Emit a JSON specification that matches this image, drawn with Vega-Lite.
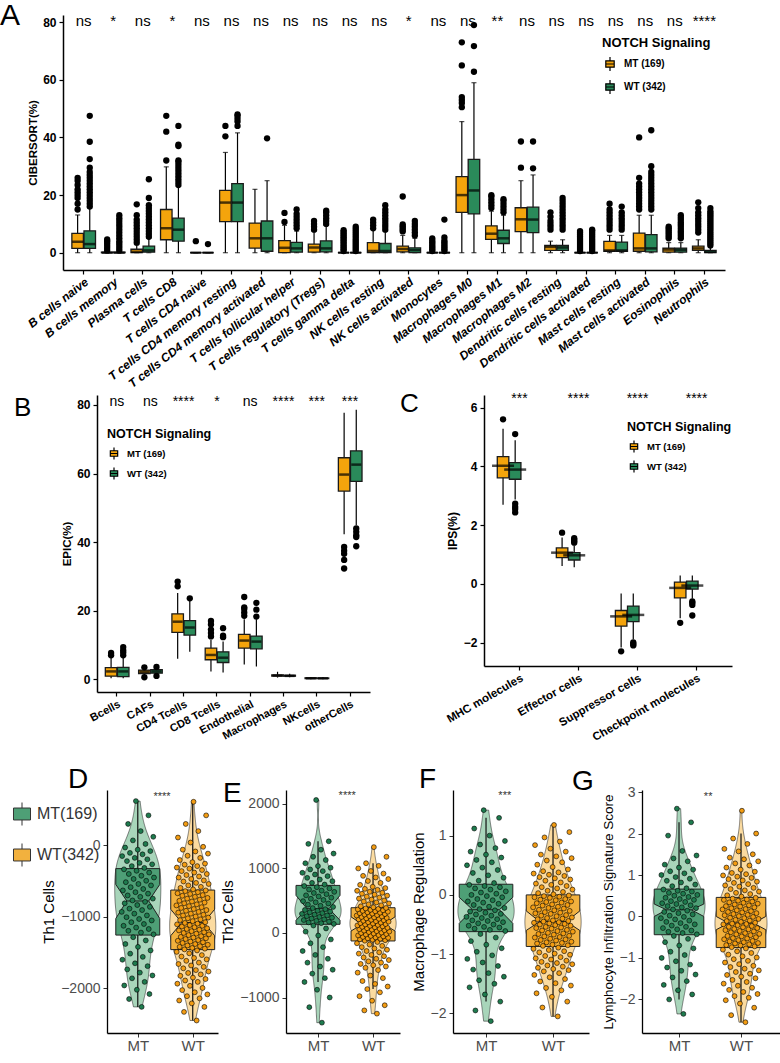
{
  "$schema": "https://vega.github.io/schema/vega-lite/v6.json",
  "padding": 0,
  "background": "white",
  "config": {
    "font": "Liberation Sans",
    "view": {"stroke": null},
    "title": {"fontWeight": "normal", "fontSize": 27, "anchor": "start", "frame": "group", "baseline": "alphabetic", "offset": 0, "color": "#000"},
    "axis": {"grid": false, "domainColor": "#000", "titleColor": "#000"},
    "axisBand": {"labelFontWeight": "bold", "labelColor": "#000", "domainWidth": 1.5, "tickWidth": 1.2, "tickColor": "#000", "tickSize": 4, "labelPadding": 2},
    "axisQuantitative": {"labelColor": "#4D4D4D", "labelFontSize": 14, "titleFontSize": 15, "titleFontWeight": "normal", "tickColor": "#333", "tickSize": 4, "domainWidth": 1.3, "labelPadding": 3},
    "legend": {"titleFontWeight": "bold", "labelFontWeight": "bold", "titleColor": "#000", "labelColor": "#000"}
  },
  "datasets": {
    "boxA": [
      {"k":"1M","c":"B cells naive","g":"MT","lo":0,"q1":1.5,"med":3.8,"q3":6.7,"hi":13.1,"s":"ns"},
      {"k":"1W","c":"B cells naive","g":"WT","lo":0,"q1":1.5,"med":3,"q3":7.6,"hi":15.5},
      {"k":"2M","c":"B cells memory","g":"MT","lo":0,"q1":0,"med":0,"q3":0.2,"hi":0.4,"s":"*"},
      {"k":"2W","c":"B cells memory","g":"WT","lo":0,"q1":0,"med":0,"q3":0.2,"hi":0.5},
      {"k":"3M","c":"Plasma cells","g":"MT","lo":0,"q1":0,"med":0.3,"q3":1.2,"hi":2.8,"s":"ns"},
      {"k":"3W","c":"Plasma cells","g":"WT","lo":0,"q1":0.2,"med":0.8,"q3":2.3,"hi":5},
      {"k":"4M","c":"T cells CD8","g":"MT","lo":0,"q1":4.5,"med":8.5,"q3":15,"hi":29.8,"s":"*"},
      {"k":"4W","c":"T cells CD8","g":"WT","lo":0,"q1":4,"med":8,"q3":12,"hi":23},
      {"k":"5M","c":"T cells CD4 naive","g":"MT","lo":0,"q1":0,"med":0,"q3":0,"hi":0,"s":"ns"},
      {"k":"5W","c":"T cells CD4 naive","g":"WT","lo":0,"q1":0,"med":0,"q3":0,"hi":0},
      {"k":"6M","c":"T cells CD4 memory resting","g":"MT","lo":0,"q1":10.8,"med":17.4,"q3":21.6,"hi":34.8,"s":"ns"},
      {"k":"6W","c":"T cells CD4 memory resting","g":"WT","lo":0,"q1":10.8,"med":17.4,"q3":24,"hi":41.6},
      {"k":"7M","c":"T cells CD4 memory activated","g":"MT","lo":0,"q1":1.6,"med":5,"q3":10.3,"hi":22,"s":"ns"},
      {"k":"7W","c":"T cells CD4 memory activated","g":"WT","lo":0,"q1":0.5,"med":5,"q3":11,"hi":25},
      {"k":"8M","c":"T cells follicular helper","g":"MT","lo":0,"q1":0,"med":1.7,"q3":4.2,"hi":9.5,"s":"ns"},
      {"k":"8W","c":"T cells follicular helper","g":"WT","lo":0,"q1":0.2,"med":1.5,"q3":3.6,"hi":7.5},
      {"k":"9M","c":"T cells regulatory (Tregs)","g":"MT","lo":0,"q1":0.2,"med":1.8,"q3":3,"hi":7.5,"s":"ns"},
      {"k":"9W","c":"T cells regulatory (Tregs)","g":"WT","lo":0,"q1":0.3,"med":1.5,"q3":4.1,"hi":9.5},
      {"k":"10M","c":"T cells gamma delta","g":"MT","lo":0,"q1":0,"med":0,"q3":0,"hi":0,"s":"ns"},
      {"k":"10W","c":"T cells gamma delta","g":"WT","lo":0,"q1":0,"med":0,"q3":0,"hi":0},
      {"k":"11M","c":"NK cells resting","g":"MT","lo":0,"q1":0,"med":0.6,"q3":3.5,"hi":8,"s":"ns"},
      {"k":"11W","c":"NK cells resting","g":"WT","lo":0,"q1":0,"med":0.6,"q3":3.2,"hi":7.5},
      {"k":"12M","c":"NK cells activated","g":"MT","lo":0,"q1":0.3,"med":1.3,"q3":2.3,"hi":6,"s":"*"},
      {"k":"12W","c":"NK cells activated","g":"WT","lo":0,"q1":0,"med":0.9,"q3":1.7,"hi":5},
      {"k":"13M","c":"Monocytes","g":"MT","lo":0,"q1":0,"med":0,"q3":0,"hi":0,"s":"ns"},
      {"k":"13W","c":"Monocytes","g":"WT","lo":0,"q1":0,"med":0,"q3":0,"hi":0},
      {"k":"14M","c":"Macrophages M0","g":"MT","lo":0,"q1":14,"med":20,"q3":26.4,"hi":45.5,"s":"ns"},
      {"k":"14W","c":"Macrophages M0","g":"WT","lo":0,"q1":13.5,"med":21.6,"q3":32.4,"hi":59},
      {"k":"15M","c":"Macrophages M1","g":"MT","lo":0,"q1":4.6,"med":6.6,"q3":9.3,"hi":14.4,"s":"**"},
      {"k":"15W","c":"Macrophages M1","g":"WT","lo":0,"q1":3.2,"med":5,"q3":7.8,"hi":13},
      {"k":"16M","c":"Macrophages M2","g":"MT","lo":0,"q1":7.3,"med":11.6,"q3":15.6,"hi":25,"s":"ns"},
      {"k":"16W","c":"Macrophages M2","g":"WT","lo":0,"q1":7,"med":11.5,"q3":15.8,"hi":27},
      {"k":"17M","c":"Dendritic cells resting","g":"MT","lo":0,"q1":0.8,"med":2,"q3":2.5,"hi":4,"s":"ns"},
      {"k":"17W","c":"Dendritic cells resting","g":"WT","lo":0,"q1":0.8,"med":1.8,"q3":2.5,"hi":4.5},
      {"k":"18M","c":"Dendritic cells activated","g":"MT","lo":0,"q1":0,"med":0,"q3":0,"hi":0,"s":"ns"},
      {"k":"18W","c":"Dendritic cells activated","g":"WT","lo":0,"q1":0,"med":0,"q3":0,"hi":0},
      {"k":"19M","c":"Mast cells resting","g":"MT","lo":0,"q1":0.5,"med":0.8,"q3":3.9,"hi":6,"s":"ns"},
      {"k":"19W","c":"Mast cells resting","g":"WT","lo":0,"q1":0.5,"med":0.8,"q3":3.7,"hi":6},
      {"k":"20M","c":"Mast cells activated","g":"MT","lo":0,"q1":0.5,"med":1.5,"q3":6.8,"hi":13,"s":"ns"},
      {"k":"20W","c":"Mast cells activated","g":"WT","lo":0,"q1":0.3,"med":1.5,"q3":6.3,"hi":13},
      {"k":"21M","c":"Eosinophils","g":"MT","lo":0,"q1":0.2,"med":1.1,"q3":1.6,"hi":3.5,"s":"ns"},
      {"k":"21W","c":"Eosinophils","g":"WT","lo":0,"q1":0.2,"med":1,"q3":1.6,"hi":3.5},
      {"k":"22M","c":"Neutrophils","g":"MT","lo":0,"q1":0.8,"med":1.5,"q3":2.3,"hi":4.5,"s":"****"},
      {"k":"22W","c":"Neutrophils","g":"WT","lo":0,"q1":0,"med":0.3,"q3":0.8,"hi":2}
    ],
    "outA": [
      {"k":"1M","v":15},{"k":"1M","v":17},{"k":"1M","v":19},{"k":"1M","v":20},{"k":"1M","v":21},{"k":"1M","v":22},{"k":"1M","v":23.5},{"k":"1M","v":25},{"k":"1M","v":26},
      {"k":"1W","v":16},{"k":"1W","v":17},{"k":"1W","v":18},{"k":"1W","v":19},{"k":"1W","v":20},{"k":"1W","v":21},{"k":"1W","v":22},{"k":"1W","v":23},{"k":"1W","v":24},{"k":"1W","v":25},{"k":"1W","v":26},{"k":"1W","v":27},{"k":"1W","v":28},{"k":"1W","v":29.5},{"k":"1W","v":32.5},{"k":"1W","v":38.5},{"k":"1W","v":47.5},
      {"k":"2M","v":0.8},{"k":"2M","v":1.6},{"k":"2M","v":2.4},{"k":"2M","v":3.2},{"k":"2M","v":4},{"k":"2M","v":4.6},
      {"k":"2W","v":0.8},{"k":"2W","v":1.6},{"k":"2W","v":2.4},{"k":"2W","v":3.2},{"k":"2W","v":4},{"k":"2W","v":5},{"k":"2W","v":6},{"k":"2W","v":7},{"k":"2W","v":8},{"k":"2W","v":9},{"k":"2W","v":10},{"k":"2W","v":11},{"k":"2W","v":12},{"k":"2W","v":13},
      {"k":"3M","v":3.5},{"k":"3M","v":4.5},{"k":"3M","v":5.5},{"k":"3M","v":6.5},{"k":"3M","v":7.5},{"k":"3M","v":8.5},{"k":"3M","v":9.5},{"k":"3M","v":10.5},{"k":"3M","v":11.5},{"k":"3M","v":13},{"k":"3M","v":16.8},
      {"k":"3W","v":5.5},{"k":"3W","v":6.5},{"k":"3W","v":7.5},{"k":"3W","v":8.5},{"k":"3W","v":9.5},{"k":"3W","v":10.5},{"k":"3W","v":11.5},{"k":"3W","v":12.5},{"k":"3W","v":13.5},{"k":"3W","v":14.5},{"k":"3W","v":15.5},{"k":"3W","v":16.5},{"k":"3W","v":19},{"k":"3W","v":25.5},
      {"k":"4M","v":32},{"k":"4M","v":42},{"k":"4M","v":47.5},
      {"k":"4W","v":23.5},{"k":"4W","v":24.5},{"k":"4W","v":25.5},{"k":"4W","v":26.5},{"k":"4W","v":27.5},{"k":"4W","v":28.5},{"k":"4W","v":29.5},{"k":"4W","v":30.5},{"k":"4W","v":31.5},{"k":"4W","v":32},{"k":"4W","v":37},{"k":"4W","v":37.5},{"k":"4W","v":44},
      {"k":"5M","v":4},{"k":"5W","v":3},
      {"k":"6M","v":40.4},{"k":"6M","v":44},
      {"k":"6W","v":44},{"k":"6W","v":45.5},{"k":"6W","v":46.5},{"k":"6W","v":47.5},{"k":"6W","v":48},
      {"k":"7W","v":39.7},
      {"k":"8M","v":10.7},{"k":"8M","v":13.8},
      {"k":"8W","v":8.5},{"k":"8W","v":9.5},{"k":"8W","v":10.5},{"k":"8W","v":11.5},{"k":"8W","v":12.5},{"k":"8W","v":13.5},{"k":"8W","v":15},
      {"k":"9M","v":8},{"k":"9M","v":9},{"k":"9M","v":10},{"k":"9M","v":11},
      {"k":"9W","v":10},{"k":"9W","v":11},{"k":"9W","v":12},{"k":"9W","v":13},{"k":"9W","v":14},{"k":"9W","v":14.6},
      {"k":"10M","v":0.6},{"k":"10M","v":1.2},{"k":"10M","v":1.8},{"k":"10M","v":2.4},{"k":"10M","v":3},{"k":"10M","v":3.6},{"k":"10M","v":4.2},{"k":"10M","v":4.8},{"k":"10M","v":5.4},{"k":"10M","v":6},{"k":"10M","v":6.6},{"k":"10M","v":7.2},{"k":"10M","v":7.8},
      {"k":"10W","v":0.6},{"k":"10W","v":1.3},{"k":"10W","v":2},{"k":"10W","v":2.7},{"k":"10W","v":3.4},{"k":"10W","v":4.1},{"k":"10W","v":4.8},{"k":"10W","v":5.5},{"k":"10W","v":6.2},{"k":"10W","v":6.9},{"k":"10W","v":7.6},{"k":"10W","v":8.3},{"k":"10W","v":9},
      {"k":"11M","v":8.5},{"k":"11M","v":9.5},{"k":"11M","v":10.5},{"k":"11M","v":11.5},
      {"k":"11W","v":8},{"k":"11W","v":9},{"k":"11W","v":10},{"k":"11W","v":11},{"k":"11W","v":12},{"k":"11W","v":13},{"k":"11W","v":14},{"k":"11W","v":15},{"k":"11W","v":16.5},
      {"k":"12M","v":7.4},{"k":"12M","v":8},{"k":"12M","v":8.6},{"k":"12M","v":9.2},{"k":"12M","v":9.8},{"k":"12M","v":19.5},
      {"k":"12W","v":6},{"k":"12W","v":7},{"k":"12W","v":8},{"k":"12W","v":9},{"k":"12W","v":10},{"k":"12W","v":11},
      {"k":"13M","v":0.6},{"k":"13M","v":1.2},{"k":"13M","v":1.8},{"k":"13M","v":2.4},{"k":"13M","v":3},{"k":"13M","v":3.6},{"k":"13M","v":4.2},{"k":"13M","v":5},
      {"k":"13W","v":0.6},{"k":"13W","v":1.2},{"k":"13W","v":1.8},{"k":"13W","v":2.4},{"k":"13W","v":3},{"k":"13W","v":3.6},{"k":"13W","v":4.2},{"k":"13W","v":5.3},{"k":"13W","v":11.5},
      {"k":"14M","v":50.5},{"k":"14M","v":52},{"k":"14M","v":53},{"k":"14M","v":54},{"k":"14M","v":65},{"k":"14M","v":73},
      {"k":"14W","v":62.8},{"k":"14W","v":71.7},{"k":"14W","v":79},
      {"k":"15M","v":15.5},{"k":"15M","v":16.5},{"k":"15M","v":17.5},{"k":"15M","v":18.5},{"k":"15M","v":19.5},{"k":"15M","v":20},
      {"k":"15W","v":14},{"k":"15W","v":15},{"k":"15W","v":16},{"k":"15W","v":17},{"k":"15W","v":18},{"k":"15W","v":18.6},
      {"k":"16M","v":29.5},{"k":"16M","v":38.6},{"k":"16W","v":29.3},{"k":"16W","v":38.6},
      {"k":"17M","v":8},{"k":"17M","v":9},{"k":"17M","v":10},{"k":"17M","v":11},{"k":"17M","v":12.5},{"k":"17M","v":14},
      {"k":"17W","v":8},{"k":"17W","v":9},{"k":"17W","v":10},{"k":"17W","v":11},{"k":"17W","v":12},{"k":"17W","v":13},{"k":"17W","v":14},{"k":"17W","v":15},{"k":"17W","v":16},{"k":"17W","v":17},{"k":"17W","v":18},{"k":"17W","v":19},
      {"k":"18M","v":0.6},{"k":"18M","v":1.3},{"k":"18M","v":2},{"k":"18M","v":2.7},{"k":"18M","v":3.4},{"k":"18M","v":4.1},{"k":"18M","v":4.8},{"k":"18M","v":5.5},{"k":"18M","v":6.2},{"k":"18M","v":6.9},{"k":"18M","v":7.5},
      {"k":"18W","v":0.6},{"k":"18W","v":1.3},{"k":"18W","v":2},{"k":"18W","v":2.7},{"k":"18W","v":3.4},{"k":"18W","v":4.1},{"k":"18W","v":4.8},{"k":"18W","v":5.5},{"k":"18W","v":6.2},{"k":"18W","v":6.9},{"k":"18W","v":7.6},{"k":"18W","v":8},
      {"k":"19M","v":8},{"k":"19M","v":9},{"k":"19M","v":10},{"k":"19M","v":11},{"k":"19M","v":12},{"k":"19M","v":13},{"k":"19M","v":14},{"k":"19M","v":15},{"k":"19M","v":17},
      {"k":"19W","v":8},{"k":"19W","v":9},{"k":"19W","v":10},{"k":"19W","v":11},{"k":"19W","v":12},{"k":"19W","v":13},{"k":"19W","v":14},{"k":"19W","v":16},
      {"k":"20M","v":15},{"k":"20M","v":16},{"k":"20M","v":17},{"k":"20M","v":18},{"k":"20M","v":19},{"k":"20M","v":20},{"k":"20M","v":21},{"k":"20M","v":22},{"k":"20M","v":23},{"k":"20M","v":24},{"k":"20M","v":26},{"k":"20M","v":40},
      {"k":"20W","v":15},{"k":"20W","v":16},{"k":"20W","v":17},{"k":"20W","v":18},{"k":"20W","v":19},{"k":"20W","v":20},{"k":"20W","v":21},{"k":"20W","v":22},{"k":"20W","v":23},{"k":"20W","v":24},{"k":"20W","v":25},{"k":"20W","v":26},{"k":"20W","v":27},{"k":"20W","v":28},{"k":"20W","v":30},{"k":"20W","v":42.5},
      {"k":"21M","v":5},{"k":"21M","v":5.7},{"k":"21M","v":6.4},{"k":"21M","v":7.1},{"k":"21M","v":7.8},{"k":"21M","v":8.5},{"k":"21M","v":9},
      {"k":"21W","v":5},{"k":"21W","v":5.8},{"k":"21W","v":6.6},{"k":"21W","v":7.4},{"k":"21W","v":8.2},{"k":"21W","v":9},{"k":"21W","v":9.8},{"k":"21W","v":10.6},{"k":"21W","v":11.4},{"k":"21W","v":12.2},{"k":"21W","v":13},
      {"k":"22M","v":7},{"k":"22M","v":8},{"k":"22M","v":9},{"k":"22M","v":10},{"k":"22M","v":11},{"k":"22M","v":12},{"k":"22M","v":13},{"k":"22M","v":14},{"k":"22M","v":15.5},{"k":"22M","v":17.5},
      {"k":"22W","v":2.5},{"k":"22W","v":3.2},{"k":"22W","v":3.9},{"k":"22W","v":4.6},{"k":"22W","v":5.3},{"k":"22W","v":6},{"k":"22W","v":6.7},{"k":"22W","v":7.4},{"k":"22W","v":8.1},{"k":"22W","v":8.8},{"k":"22W","v":9.5},{"k":"22W","v":10.2},{"k":"22W","v":10.9},{"k":"22W","v":11.6},{"k":"22W","v":12.3},{"k":"22W","v":13},{"k":"22W","v":13.7},{"k":"22W","v":14.4},{"k":"22W","v":15.5}
    ],
    "boxB": [
      {"k":"1M","c":"Bcells","g":"MT","lo":0.3,"q1":0.9,"med":2.3,"q3":3.4,"hi":6.3,"s":"ns"},
      {"k":"1W","c":"Bcells","g":"WT","lo":0.3,"q1":0.8,"med":2.3,"q3":3.5,"hi":6.5},
      {"k":"2M","c":"CAFs","g":"MT","lo":1.2,"q1":1.7,"med":2.2,"q3":2.7,"hi":3,"s":"ns"},
      {"k":"2W","c":"CAFs","g":"WT","lo":1.4,"q1":1.8,"med":2.3,"q3":2.8,"hi":3.2},
      {"k":"3M","c":"CD4 Tcells","g":"MT","lo":6,"q1":13.7,"med":16.8,"q3":19.1,"hi":25.2,"s":"****"},
      {"k":"3W","c":"CD4 Tcells","g":"WT","lo":8,"q1":12.9,"med":15.1,"q3":17.1,"hi":23.4},
      {"k":"4M","c":"CD8 Tcells","g":"MT","lo":2.3,"q1":5.7,"med":7.1,"q3":9.1,"hi":11.5,"s":"*"},
      {"k":"4W","c":"CD8 Tcells","g":"WT","lo":2,"q1":4.9,"med":6.3,"q3":8,"hi":11},
      {"k":"5M","c":"Endothelial","g":"MT","lo":4.3,"q1":9.1,"med":11.3,"q3":13.1,"hi":17.5,"s":"ns"},
      {"k":"5W","c":"Endothelial","g":"WT","lo":3.7,"q1":8.9,"med":11,"q3":12.6,"hi":17.5},
      {"k":"6M","c":"Macrophages","g":"MT","lo":0.5,"q1":0.9,"med":1.1,"q3":1.3,"hi":2.2,"s":"****"},
      {"k":"6W","c":"Macrophages","g":"WT","lo":0.6,"q1":0.9,"med":1,"q3":1.2,"hi":1.6},
      {"k":"7M","c":"NKcells","g":"MT","lo":0,"q1":0.2,"med":0.3,"q3":0.45,"hi":0.7,"s":"***"},
      {"k":"7W","c":"NKcells","g":"WT","lo":0,"q1":0.2,"med":0.3,"q3":0.4,"hi":0.65},
      {"k":"8M","c":"otherCells","g":"MT","lo":42.3,"q1":54.9,"med":59.7,"q3":64.6,"hi":77.7,"s":"***"},
      {"k":"8W","c":"otherCells","g":"WT","lo":44.9,"q1":57.7,"med":62.6,"q3":66.6,"hi":78.6}
    ],
    "outB": [
      {"k":"1M","v":7},{"k":"1M","v":7.7},{"k":"1W","v":7},{"k":"1W","v":7.8},{"k":"1W","v":8.5},{"k":"1W","v":9.4},
      {"k":"2M","v":0.6},{"k":"2M","v":3.5},{"k":"2W","v":1},{"k":"2W","v":3.6},
      {"k":"3M","v":27.1},{"k":"3M","v":28.5},{"k":"3W","v":23.6},
      {"k":"4M","v":12.5},{"k":"4M","v":13.5},{"k":"4M","v":14.5},{"k":"4M","v":16},{"k":"4M","v":17},
      {"k":"4W","v":12.3},{"k":"4W","v":12.7},{"k":"4W","v":14.9},
      {"k":"5M","v":18.5},{"k":"5M","v":19.5},{"k":"5M","v":20.5},{"k":"5M","v":21},{"k":"5M","v":24},
      {"k":"5W","v":18.3},{"k":"5W","v":20.3},{"k":"5W","v":22.3},
      {"k":"8M","v":38.6},{"k":"8M","v":37.5},{"k":"8M","v":36.6},{"k":"8M","v":34.8},{"k":"8M","v":32.3},
      {"k":"8W","v":44},{"k":"8W","v":43},{"k":"8W","v":42},{"k":"8W","v":41.5},{"k":"8W","v":38.8}
    ],
    "boxC": [
      {"k":"1M","c":"MHC molecules","g":"MT","lo":2.69,"q1":3.61,"med":4.02,"q3":4.33,"hi":5.28,"s":"***"},
      {"k":"1W","c":"MHC molecules","g":"WT","lo":2.87,"q1":3.56,"med":3.89,"q3":4.13,"hi":4.89},
      {"k":"2M","c":"Effector cells","g":"MT","lo":0.61,"q1":0.89,"med":1.06,"q3":1.22,"hi":1.58,"s":"****"},
      {"k":"2W","c":"Effector cells","g":"WT","lo":0.56,"q1":0.81,"med":0.97,"q3":1.06,"hi":1.3},
      {"k":"3M","c":"Suppressor cells","g":"MT","lo":-2.17,"q1":-1.44,"med":-1.11,"q3":-0.91,"hi":-0.33,"s":"****"},
      {"k":"3W","c":"Suppressor cells","g":"WT","lo":-1.89,"q1":-1.29,"med":-1.06,"q3":-0.76,"hi":-0.33},
      {"k":"4M","c":"Checkpoint molecules","g":"MT","lo":-1.17,"q1":-0.48,"med":-0.14,"q3":0.06,"hi":0.28,"s":"****"},
      {"k":"4W","c":"Checkpoint molecules","g":"WT","lo":-0.5,"q1":-0.18,"med":-0.06,"q3":0.09,"hi":0.28}
    ],
    "outC": [
      {"k":"1M","v":5.6},{"k":"1W","v":5.1},{"k":"1W","v":2.73},{"k":"1W","v":2.62},{"k":"1W","v":2.55},{"k":"1W","v":2.43},
      {"k":"2M","v":1.74},{"k":"2W","v":1.4},{"k":"2W","v":1.45},{"k":"2W","v":1.5},{"k":"2W","v":1.55},
      {"k":"3M","v":-2.3},{"k":"3W","v":-2},{"k":"3W","v":-2.05},{"k":"3W","v":-2.1},
      {"k":"4M","v":-1.33},{"k":"4W","v":-0.6},{"k":"4W","v":-0.65},{"k":"4W","v":-0.72},{"k":"4W","v":-1.08}
    ],
    "boxDG": [
      {"p":"D","g":"MT","lo":-2260,"q1":-1255,"nlo":-1023,"med":-778,"nhi":-547,"q3":-325,"hi":620,"s":"****"},
      {"p":"D","g":"WT","lo":-2450,"q1":-1458,"nlo":-1264,"med":-1080,"nhi":-894,"q3":-625,"hi":610},
      {"p":"E","g":"MT","lo":-760,"q1":134,"nlo":196,"med":376,"nhi":582,"q3":737,"hi":1420,"s":"****"},
      {"p":"E","g":"WT","lo":-870,"q1":-124,"nlo":30,"med":134,"nhi":250,"q3":391,"hi":1080},
      {"p":"F","g":"MT","lo":-1.8,"q1":-0.62,"nlo":-0.48,"med":-0.25,"nhi":-0.04,"q3":0.18,"hi":1.3,"s":"***"},
      {"p":"F","g":"WT","lo":-2.05,"q1":-0.87,"nlo":-0.6,"med":-0.45,"nhi":-0.27,"q3":0,"hi":1.18},
      {"p":"G","g":"MT","lo":-2,"q1":-0.44,"nlo":0,"med":0.16,"nhi":0.3,"q3":0.66,"hi":2.27,"s":"**"},
      {"p":"G","g":"WT","lo":-2.55,"q1":-0.75,"nlo":-0.32,"med":-0.16,"nhi":0,"q3":0.46,"hi":2}
    ],
    "letters": [{"t": "G"}],
    "D_MT": [-2260,-2150,-2080,-2020,-1960,-1910,-1860,-1820,-1780,-1735,-1690,-1650,-1600,-1560,-1515,-1470,-1420,-1380,-1330,-1285,-1245,-1220,-1195,-1170,-1150,-1125,-1100,-1075,-1050,-1030,-1005,-980,-955,-930,-905,-885,-860,-835,-810,-790,-770,-745,-720,-700,-675,-655,-630,-610,-585,-560,-540,-515,-495,-470,-450,-425,-400,-380,-355,-335,-315,-290,-265,-245,-220,-195,-175,-150,-125,-105,-80,-60,-30,20,70,120,200,300,420,620],
    "D_WT": [-2450,-2330,-2260,-2210,-2170,-2140,-2110,-2085,-2055,-2025,-1995,-1965,-1935,-1910,-1890,-1870,-1850,-1825,-1805,-1785,-1765,-1745,-1720,-1700,-1680,-1660,-1640,-1615,-1595,-1575,-1555,-1535,-1510,-1490,-1470,-1455,-1445,-1435,-1420,-1410,-1400,-1390,-1380,-1365,-1355,-1345,-1335,-1325,-1310,-1300,-1290,-1280,-1270,-1255,-1245,-1235,-1225,-1215,-1200,-1190,-1180,-1170,-1160,-1145,-1135,-1125,-1115,-1105,-1095,-1085,-1075,-1060,-1045,-1035,-1020,-1010,-995,-980,-970,-955,-940,-930,-915,-905,-890,-875,-865,-850,-840,-825,-810,-800,-785,-775,-760,-745,-735,-720,-705,-695,-680,-670,-655,-640,-630,-615,-595,-580,-560,-540,-525,-505,-490,-470,-450,-435,-415,-400,-380,-360,-345,-325,-310,-290,-270,-255,-235,-205,-175,-145,-115,-85,-60,-20,40,110,200,300,420,610],
    "E_MT": [-1390,-1150,-1000,-880,-760,-700,-630,-570,-520,-460,-400,-340,-280,-220,-160,-100,-40,20,70,115,140,152,164,176,188,200,212,224,236,248,260,272,284,296,308,320,332,344,356,368,385,403,421,439,457,475,493,511,529,547,565,583,601,619,637,655,673,691,709,727,750,776,802,828,854,880,906,932,958,984,1010,1036,1080,1130,1180,1230,1290,1380,1420,2060],
    "E_WT": [-1250,-1200,-1120,-1050,-980,-920,-870,-830,-790,-745,-700,-660,-615,-575,-540,-520,-500,-480,-460,-440,-420,-400,-380,-360,-340,-320,-300,-280,-260,-240,-220,-200,-180,-160,-140,-120,-112,-105,-98,-90,-83,-75,-68,-61,-53,-46,-38,-31,-24,-16,-9,-1,6,14,21,28,36,43,51,58,65,73,80,88,95,102,110,117,125,132,138,145,153,160,167,175,182,189,197,204,211,219,226,233,241,248,255,263,270,277,285,292,299,307,314,321,329,336,343,351,358,365,373,380,387,398,413,428,443,458,473,488,503,518,533,548,563,578,593,608,623,638,653,668,683,695,715,745,775,805,835,860,885,920,960,1000,1040,1080,1180,1330],
    "F_MT": [-2.13,-1.95,-1.8,-1.68,-1.56,-1.5,-1.44,-1.38,-1.32,-1.26,-1.2,-1.14,-1.08,-1.02,-0.96,-0.9,-0.84,-0.78,-0.72,-0.66,-0.61,-0.59,-0.57,-0.55,-0.54,-0.52,-0.5,-0.48,-0.46,-0.44,-0.43,-0.41,-0.39,-0.37,-0.35,-0.33,-0.32,-0.3,-0.28,-0.26,-0.24,-0.22,-0.2,-0.17,-0.15,-0.13,-0.11,-0.09,-0.07,-0.04,-0.02,0,0.02,0.04,0.06,0.09,0.11,0.13,0.15,0.17,0.2,0.24,0.29,0.33,0.37,0.42,0.46,0.5,0.55,0.59,0.63,0.68,0.73,0.79,0.85,0.91,1,1.12,1.3,1.43],
    "F_WT": [-2.05,-1.9,-1.8,-1.72,-1.66,-1.61,-1.57,-1.53,-1.49,-1.46,-1.42,-1.39,-1.35,-1.32,-1.29,-1.27,-1.25,-1.23,-1.21,-1.19,-1.17,-1.15,-1.13,-1.11,-1.09,-1.07,-1.05,-1.03,-1.01,-0.99,-0.97,-0.95,-0.93,-0.91,-0.89,-0.86,-0.85,-0.84,-0.82,-0.81,-0.8,-0.79,-0.77,-0.76,-0.75,-0.74,-0.72,-0.71,-0.7,-0.69,-0.67,-0.66,-0.65,-0.64,-0.62,-0.61,-0.6,-0.59,-0.57,-0.56,-0.55,-0.54,-0.52,-0.51,-0.5,-0.49,-0.48,-0.47,-0.46,-0.45,-0.44,-0.43,-0.41,-0.4,-0.39,-0.38,-0.36,-0.35,-0.34,-0.32,-0.31,-0.3,-0.29,-0.27,-0.26,-0.25,-0.23,-0.22,-0.21,-0.2,-0.18,-0.17,-0.16,-0.14,-0.13,-0.12,-0.11,-0.09,-0.08,-0.07,-0.05,-0.04,-0.03,-0.02,-0.01,0.01,0.03,0.05,0.07,0.09,0.11,0.13,0.15,0.17,0.19,0.21,0.24,0.26,0.28,0.3,0.32,0.34,0.36,0.38,0.4,0.43,0.47,0.51,0.55,0.58,0.62,0.65,0.68,0.73,0.78,0.84,0.9,0.97,1.06,1.18],
    "G_MT": [-2.35,-2,-1.88,-1.78,-1.65,-1.56,-1.47,-1.4,-1.31,-1.23,-1.16,-1.08,-1,-0.93,-0.85,-0.77,-0.7,-0.62,-0.54,-0.47,-0.43,-0.4,-0.37,-0.34,-0.31,-0.28,-0.25,-0.22,-0.19,-0.16,-0.13,-0.1,-0.07,-0.04,-0.01,0.02,0.05,0.08,0.11,0.14,0.17,0.2,0.22,0.25,0.27,0.3,0.32,0.35,0.37,0.4,0.42,0.45,0.47,0.5,0.52,0.55,0.57,0.6,0.62,0.65,0.68,0.73,0.77,0.82,0.86,0.91,0.95,1,1.04,1.09,1.13,1.18,1.25,1.33,1.4,1.47,1.58,1.95,2.27,2.6],
    "G_WT": [-2.55,-2.38,-2.2,-2.1,-2.02,-1.96,-1.92,-1.87,-1.82,-1.77,-1.72,-1.67,-1.62,-1.58,-1.53,-1.49,-1.45,-1.41,-1.38,-1.34,-1.3,-1.26,-1.22,-1.19,-1.15,-1.11,-1.07,-1.03,-0.99,-0.96,-0.92,-0.88,-0.84,-0.8,-0.77,-0.74,-0.72,-0.7,-0.69,-0.67,-0.65,-0.64,-0.62,-0.6,-0.59,-0.57,-0.55,-0.53,-0.52,-0.5,-0.48,-0.47,-0.45,-0.43,-0.42,-0.4,-0.38,-0.36,-0.35,-0.33,-0.31,-0.3,-0.28,-0.26,-0.25,-0.23,-0.21,-0.19,-0.18,-0.17,-0.15,-0.13,-0.11,-0.1,-0.08,-0.06,-0.04,-0.03,-0.01,0.01,0.03,0.04,0.06,0.08,0.1,0.11,0.13,0.15,0.17,0.18,0.2,0.22,0.24,0.25,0.27,0.29,0.31,0.33,0.34,0.36,0.38,0.4,0.41,0.43,0.45,0.48,0.51,0.54,0.57,0.6,0.63,0.66,0.69,0.72,0.75,0.78,0.81,0.84,0.87,0.9,0.93,0.96,0.99,1.02,1.05,1.08,1.13,1.18,1.23,1.28,1.33,1.38,1.42,1.5,1.57,1.63,1.75,1.88,2,2.55]
  },
  "vconcat": [
    {
      "width": 662, "height": 255,
      "title": {"text": "A", "fontSize": 30, "dx": -63, "dy": 21},
      "encoding": {"x": {"field": "c", "type": "nominal", "sort": null, "title": null, "scale": {"paddingInner": 0.2, "paddingOuter": 0.3}, "axis": {"labelAngle": -38, "labelFontSize": 12, "labelFontStyle": "italic", "labelLimit": 400}}},
      "layer": [
        {"data": {"name": "boxA"}, "mark": {"type": "rule", "color": "#000", "strokeWidth": 1.2},
         "encoding": {"xOffset": {"field": "g", "type": "nominal", "scale": {"paddingInner": 0.05}},
           "y": {"field": "lo", "type": "quantitative", "title": "CIBERSORT(%)", "scale": {"domain": [-6, 82.5], "nice": false, "zero": false},
             "axis": {"values": [0, 20, 40, 60, 80], "labelColor": "#000", "labelFontSize": 12, "labelFontWeight": "bold", "titleFontSize": 11.5, "titleFontWeight": "bold", "tickColor": "#000", "tickWidth": 1.2, "domainWidth": 1.5}},
           "y2": {"field": "hi"}}},
        {"data": {"name": "boxA"}, "mark": {"type": "tick", "color": "#000", "thickness": 1.2, "size": 5},
         "encoding": {"xOffset": {"field": "g", "type": "nominal"}, "y": {"field": "hi", "type": "quantitative"}}},
        {"data": {"name": "boxA"}, "mark": {"type": "tick", "color": "#000", "thickness": 1.2, "size": 5},
         "encoding": {"xOffset": {"field": "g", "type": "nominal"}, "y": {"field": "lo", "type": "quantitative"}}},
        {"data": {"name": "boxA"}, "mark": {"type": "bar", "stroke": "#1a1a1a", "strokeWidth": 1.3, "opacity": 1},
         "encoding": {"xOffset": {"field": "g", "type": "nominal"}, "y": {"field": "q1", "type": "quantitative"}, "y2": {"field": "q3"},
           "color": {"field": "g", "type": "nominal", "scale": {"domain": ["MT", "WT"], "range": ["#F4A40C", "#2A8A5A"]},
             "legend": {"orient": "none", "legendX": 539, "legendY": 22, "title": "NOTCH Signaling", "titleFontSize": 13, "labelFontSize": 10, "labelExpr": "datum.label == 'MT' ? 'MT (169)' : 'WT (342)'", "symbolType": "M-0.6,-0.45H0.6V0.45H-0.6Z M0,-1V-0.45 M0,0.45V1 M-0.6,0H0.6", "symbolSize": 196, "symbolStrokeColor": "#000", "symbolStrokeWidth": 1.2, "rowPadding": 3, "titlePadding": 6, "labelOffset": 6}}}},
        {"data": {"name": "boxA"}, "mark": {"type": "tick", "color": "#000", "thickness": 2.5, "size": 11},
         "encoding": {"xOffset": {"field": "g", "type": "nominal"}, "y": {"field": "med", "type": "quantitative"}}},
        {"data": {"name": "outA"}, "transform": [{"lookup": "k", "from": {"data": {"name": "boxA"}, "key": "k", "fields": ["c", "g"]}}],
         "mark": {"type": "circle", "color": "#000", "size": 40, "opacity": 1},
         "encoding": {"xOffset": {"field": "g", "type": "nominal"}, "y": {"field": "v", "type": "quantitative"}}},
        {"data": {"name": "boxA"}, "transform": [{"filter": "datum.g == 'MT'"}], "mark": {"type": "text", "fontSize": 15, "color": "#000"},
         "encoding": {"y": {"datum": 80.5}, "text": {"field": "s"}}}
      ]
    },
    {
      "hconcat": [
        {"width": 34, "height": 370, "data": {"values": []}, "mark": "point"},
        {
          "width": 273, "height": 297,
          "title": {"text": "B", "fontSize": 26, "dx": -83, "dy": 30},
          "encoding": {"x": {"field": "c", "type": "nominal", "sort": null, "title": null, "scale": {"paddingInner": 0.3, "paddingOuter": 0.25}, "axis": {"labelAngle": -28, "labelFontSize": 11}}},
          "layer": [
            {"data": {"name": "boxB"}, "mark": {"type": "rule", "color": "#000", "strokeWidth": 1.2},
             "encoding": {"xOffset": {"field": "g", "type": "nominal", "scale": {"paddingInner": 0.08}},
               "y": {"field": "lo", "type": "quantitative", "title": "EPIC(%)", "scale": {"domain": [-3.7, 82.9], "nice": false, "zero": false},
                 "axis": {"values": [0, 20, 40, 60, 80], "labelColor": "#000", "labelFontSize": 12, "labelFontWeight": "bold", "titleFontSize": 11.5, "titleFontWeight": "bold", "tickColor": "#000", "tickWidth": 1.2, "domainWidth": 1.5}},
               "y2": {"field": "hi"}}},
            {"data": {"name": "boxB"}, "mark": {"type": "bar", "stroke": "#1a1a1a", "strokeWidth": 1.3, "opacity": 1},
             "encoding": {"xOffset": {"field": "g", "type": "nominal"}, "y": {"field": "q1", "type": "quantitative"}, "y2": {"field": "q3"},
               "color": {"field": "g", "type": "nominal", "scale": {"domain": ["MT", "WT"], "range": ["#F4A40C", "#2A8A5A"]},
                 "legend": {"orient": "none", "legendX": 10, "legendY": 33, "title": "NOTCH Signaling", "titleFontSize": 12.5, "labelFontSize": 9.5, "labelExpr": "datum.label == 'MT' ? 'MT (169)' : 'WT (342)'", "symbolType": "M-0.6,-0.45H0.6V0.45H-0.6Z M0,-1V-0.45 M0,0.45V1 M-0.6,0H0.6", "symbolSize": 150, "symbolStrokeColor": "#000", "symbolStrokeWidth": 1.2, "rowPadding": 2, "titlePadding": 6, "labelOffset": 6}}}},
            {"data": {"name": "boxB"}, "mark": {"type": "tick", "color": "#000", "thickness": 2.5, "size": 10},
             "encoding": {"xOffset": {"field": "g", "type": "nominal"}, "y": {"field": "med", "type": "quantitative"}}},
            {"data": {"name": "outB"}, "transform": [{"lookup": "k", "from": {"data": {"name": "boxB"}, "key": "k", "fields": ["c", "g"]}}],
             "mark": {"type": "circle", "color": "#000", "size": 40, "opacity": 1},
             "encoding": {"xOffset": {"field": "g", "type": "nominal"}, "y": {"field": "v", "type": "quantitative"}}},
            {"data": {"name": "boxB"}, "transform": [{"filter": "datum.g == 'MT'"}], "mark": {"type": "text", "fontSize": 14, "color": "#000"},
             "encoding": {"y": {"datum": 80.9}, "text": {"field": "s"}}}
          ]
        },
        {"width": 114, "height": 1, "data": {"values": []}, "mark": "point"},
        {
          "width": 248, "height": 271,
          "title": {"text": "C", "fontSize": 26, "dx": -84, "dy": 29},
          "encoding": {"x": {"field": "c", "type": "nominal", "sort": null, "title": null, "scale": {"paddingInner": 0.25, "paddingOuter": 0.225}, "axis": {"labelAngle": -30, "labelFontSize": 11.5}}},
          "layer": [
            {"data": {"name": "boxC"}, "mark": {"type": "rule", "color": "#000", "strokeWidth": 1.2},
             "encoding": {"xOffset": {"field": "g", "type": "nominal", "scale": {"paddingInner": 0.06}},
               "y": {"field": "lo", "type": "quantitative", "title": "IPS(%)", "scale": {"domain": [-2.8, 6.43], "nice": false, "zero": false},
                 "axis": {"values": [-2, 0, 2, 4, 6], "labelColor": "#000", "labelFontSize": 12, "labelFontWeight": "bold", "titleFontSize": 12, "titleFontWeight": "bold", "tickColor": "#000", "tickWidth": 1.2, "domainWidth": 1.5}},
               "y2": {"field": "hi"}}},
            {"data": {"name": "boxC"}, "mark": {"type": "bar", "stroke": "#1a1a1a", "strokeWidth": 1.3, "opacity": 1},
             "encoding": {"xOffset": {"field": "g", "type": "nominal"}, "y": {"field": "q1", "type": "quantitative"}, "y2": {"field": "q3"},
               "color": {"field": "g", "type": "nominal", "scale": {"domain": ["MT", "WT"], "range": ["#F4A40C", "#2A8A5A"]},
                 "legend": {"orient": "none", "legendX": 143, "legendY": 26, "title": "NOTCH Signaling", "titleFontSize": 12.5, "labelFontSize": 9.5, "labelExpr": "datum.label == 'MT' ? 'MT (169)' : 'WT (342)'", "symbolType": "M-0.6,-0.45H0.6V0.45H-0.6Z M0,-1V-0.45 M0,0.45V1 M-0.6,0H0.6", "symbolSize": 150, "symbolStrokeColor": "#000", "symbolStrokeWidth": 1.2, "rowPadding": 2, "titlePadding": 6, "labelOffset": 6}}}},
            {"data": {"name": "boxC"}, "mark": {"type": "tick", "color": "#000", "thickness": 2.5, "size": 22},
             "encoding": {"xOffset": {"field": "g", "type": "nominal"}, "y": {"field": "med", "type": "quantitative"}}},
            {"data": {"name": "outC"}, "transform": [{"lookup": "k", "from": {"data": {"name": "boxC"}, "key": "k", "fields": ["c", "g"]}}],
             "mark": {"type": "circle", "color": "#000", "size": 40, "opacity": 1},
             "encoding": {"xOffset": {"field": "g", "type": "nominal"}, "y": {"field": "v", "type": "quantitative"}}},
            {"data": {"name": "boxC"}, "transform": [{"filter": "datum.g == 'MT'"}], "mark": {"type": "text", "fontSize": 14, "color": "#000"},
             "encoding": {"y": {"datum": 6.3}, "text": {"field": "s"}}}
          ]
        }
      ],
      "spacing": 0, "bounds": "flush",
      "resolve": {"scale": {"color": "independent"}, "legend": {"color": "independent"}}
    },
    {
      "hconcat": [
        {"width": 44, "height": 1, "data": {"values": []}, "mark": "point"},
        {
          "width": 111, "height": 243,
          "title": {"text": "D", "fontSize": 28, "dx": -39, "dy": 8},
          "encoding": {
            "x": {"field": "x", "type": "quantitative", "stack": null, "title": null, "scale": {"domain": [0.44, 2.46], "nice": false, "zero": false}, "axis": {"values": [1, 2], "labelExpr": "datum.value == 1 ? 'MT' : 'WT'", "labelFontSize": 15, "labelPadding": 1}},
            "y": {"field": "v", "type": "quantitative", "title": "Th1 Cells", "scale": {"domain": [-2625, 775], "nice": false, "zero": false}, "axis": {"values": [-2000, -1000, 0], "format": "d"}}
          },
          "layer": [
            {"data": {"name": "D_MT"}, "transform": [{"density": "data", "bandwidth": 230, "extent": [-2260, 620], "as": ["v", "dens"]}, {"joinaggregate": [{"op": "max", "field": "dens", "as": "dm"}]}, {"calculate": "1 - 0.42 * datum.dens / datum.dm", "as": "x"}, {"calculate": "1 + 0.42 * datum.dens / datum.dm", "as": "x2"}],
             "mark": {"type": "area", "orient": "horizontal", "fill": "#A8D5BA", "stroke": "#333", "strokeWidth": 0.6, "opacity": 1}, "encoding": {"x2": {"field": "x2"}}},
            {"data": {"name": "D_WT"}, "transform": [{"density": "data", "bandwidth": 230, "extent": [-2450, 610], "as": ["v", "dens"]}, {"joinaggregate": [{"op": "max", "field": "dens", "as": "dm"}]}, {"calculate": "2 - 0.42 * datum.dens / datum.dm", "as": "x"}, {"calculate": "2 + 0.42 * datum.dens / datum.dm", "as": "x2"}],
             "mark": {"type": "area", "orient": "horizontal", "fill": "#FBDBA0", "stroke": "#333", "strokeWidth": 0.6, "opacity": 1}, "encoding": {"x2": {"field": "x2"}}},
            {"data": {"name": "boxDG"}, "transform": [{"filter": "datum.p == 'D'"}, {"calculate": "datum.g == 'MT' ? 1 : 2", "as": "x"}, {"calculate": "datum.lo", "as": "v"}, {"calculate": "datum.hi", "as": "v2"}],
             "mark": {"type": "rule", "color": "#111", "strokeWidth": 1.2}, "encoding": {"y2": {"field": "v2"}}},
            {"data": {"name": "boxDG"}, "transform": [{"filter": "datum.p == 'D'"}, {"calculate": "datum.g == 'MT' ? 1 : 2", "as": "c"}, {"fold": ["q1", "nlo", "med", "nhi", "q3"], "as": ["key", "v"]}, {"calculate": "datum.c - (datum.key == 'med' ? 0.2 : 0.4)", "as": "x"}, {"calculate": "datum.c + (datum.key == 'med' ? 0.2 : 0.4)", "as": "x2"}],
             "mark": {"type": "area", "orient": "horizontal", "stroke": "#222", "strokeWidth": 1, "opacity": 1},
             "encoding": {"x2": {"field": "x2"}, "color": {"field": "g", "type": "nominal", "scale": {"domain": ["MT", "WT"], "range": ["#4E9F76", "#F2B13E"]},
               "legend": {"orient": "none", "legendX": -97, "legendY": 12, "title": null, "labelFontSize": 16, "labelFontWeight": "normal", "labelColor": "#333", "labelExpr": "datum.label == 'MT' ? 'MT(169)' : 'WT(342)'", "symbolType": "M-0.74,-0.52H0.74V0.52H-0.74Z M0,-1V-0.52 M0,0.52V1", "symbolSize": 529, "symbolStrokeColor": "#333", "symbolStrokeWidth": 1, "rowPadding": 13, "labelOffset": 3,
                 "encode": {"symbols": {"update": {"fill": {"signal": "datum.value == 'MT' ? '#5DA67F' : '#F9D9A2'"}}}}}}}},
            {"data": {"name": "boxDG"}, "transform": [{"filter": "datum.p == 'D'"}, {"calculate": "datum.g == 'MT' ? 1 : 2", "as": "c"}, {"calculate": "datum.med", "as": "v"}, {"calculate": "datum.c - 0.2", "as": "x"}, {"calculate": "datum.c + 0.2", "as": "x2"}],
             "mark": {"type": "rule", "color": "#222", "strokeWidth": 1}, "encoding": {"x2": {"field": "x2"}}},
            {"data": {"name": "D_MT"}, "transform": [{"window": [{"op": "row_number", "as": "i"}]}, {"calculate": "1 + ((datum.i * 0.618034) % 1 - 0.5) * 0.6", "as": "x"}, {"calculate": "datum.data", "as": "v"}],
             "mark": {"type": "circle", "size": 24, "fill": "#1E7B4E", "stroke": "#000", "strokeWidth": 0.6, "opacity": 1}},
            {"data": {"name": "D_WT"}, "transform": [{"window": [{"op": "row_number", "as": "i"}]}, {"calculate": "2 + ((datum.i * 0.618034) % 1 - 0.5) * 0.6", "as": "x"}, {"calculate": "datum.data", "as": "v"}],
             "mark": {"type": "circle", "size": 24, "fill": "#F39C12", "stroke": "#000", "strokeWidth": 0.6, "opacity": 1}},
            {"data": {"name": "boxDG"}, "transform": [{"filter": "datum.p == 'D' && datum.g == 'MT'"}, {"calculate": "1.44", "as": "x"}, {"calculate": "680", "as": "v"}], "mark": {"type": "text", "fontSize": 11, "color": "#333"},
             "encoding": {"text": {"field": "s"}}}
          ]
        },
        {"width": 68, "height": 1, "data": {"values": []}, "mark": "point"},
        {
          "width": 114, "height": 243,
          "title": {"text": "E", "fontSize": 28, "dx": -63, "dy": 22},
          "encoding": {
            "x": {"field": "x", "type": "quantitative", "stack": null, "title": null, "scale": {"domain": [0.418, 2.49], "nice": false, "zero": false}, "axis": {"values": [1, 2], "labelExpr": "datum.value == 1 ? 'MT' : 'WT'", "labelFontSize": 15, "labelPadding": 1}},
            "y": {"field": "v", "type": "quantitative", "title": "Th2 Cells", "scale": {"domain": [-1550, 2215], "nice": false, "zero": false}, "axis": {"values": [-1000, 0, 1000, 2000], "format": "d"}}
          },
          "layer": [
            {"data": {"name": "E_MT"}, "transform": [{"density": "data", "bandwidth": 170, "extent": [-1390, 2060], "as": ["v", "dens"]}, {"joinaggregate": [{"op": "max", "field": "dens", "as": "dm"}]}, {"calculate": "1 - 0.42 * datum.dens / datum.dm", "as": "x"}, {"calculate": "1 + 0.42 * datum.dens / datum.dm", "as": "x2"}],
             "mark": {"type": "area", "orient": "horizontal", "fill": "#A8D5BA", "stroke": "#333", "strokeWidth": 0.6, "opacity": 1}, "encoding": {"x2": {"field": "x2"}}},
            {"data": {"name": "E_WT"}, "transform": [{"density": "data", "bandwidth": 150, "extent": [-1250, 1330], "as": ["v", "dens"]}, {"joinaggregate": [{"op": "max", "field": "dens", "as": "dm"}]}, {"calculate": "2 - 0.42 * datum.dens / datum.dm", "as": "x"}, {"calculate": "2 + 0.42 * datum.dens / datum.dm", "as": "x2"}],
             "mark": {"type": "area", "orient": "horizontal", "fill": "#FBDBA0", "stroke": "#333", "strokeWidth": 0.6, "opacity": 1}, "encoding": {"x2": {"field": "x2"}}},
            {"data": {"name": "boxDG"}, "transform": [{"filter": "datum.p == 'E'"}, {"calculate": "datum.g == 'MT' ? 1 : 2", "as": "x"}, {"calculate": "datum.lo", "as": "v"}, {"calculate": "datum.hi", "as": "v2"}],
             "mark": {"type": "rule", "color": "#111", "strokeWidth": 1.2}, "encoding": {"y2": {"field": "v2"}}},
            {"data": {"name": "boxDG"}, "transform": [{"filter": "datum.p == 'E'"}, {"calculate": "datum.g == 'MT' ? 1 : 2", "as": "c"}, {"fold": ["q1", "nlo", "med", "nhi", "q3"], "as": ["key", "v"]}, {"calculate": "datum.c - (datum.key == 'med' ? 0.2 : 0.4)", "as": "x"}, {"calculate": "datum.c + (datum.key == 'med' ? 0.2 : 0.4)", "as": "x2"}],
             "mark": {"type": "area", "orient": "horizontal", "stroke": "#222", "strokeWidth": 1, "opacity": 1},
             "encoding": {"x2": {"field": "x2"}, "color": {"field": "g", "type": "nominal", "scale": {"domain": ["MT", "WT"], "range": ["#4E9F76", "#F2B13E"]}, "legend": null}}},
            {"data": {"name": "boxDG"}, "transform": [{"filter": "datum.p == 'E'"}, {"calculate": "datum.g == 'MT' ? 1 : 2", "as": "c"}, {"calculate": "datum.med", "as": "v"}, {"calculate": "datum.c - 0.2", "as": "x"}, {"calculate": "datum.c + 0.2", "as": "x2"}],
             "mark": {"type": "rule", "color": "#222", "strokeWidth": 1}, "encoding": {"x2": {"field": "x2"}}},
            {"data": {"name": "E_MT"}, "transform": [{"window": [{"op": "row_number", "as": "i"}]}, {"calculate": "1 + ((datum.i * 0.618034) % 1 - 0.5) * 0.6", "as": "x"}, {"calculate": "datum.data", "as": "v"}],
             "mark": {"type": "circle", "size": 24, "fill": "#1E7B4E", "stroke": "#000", "strokeWidth": 0.6, "opacity": 1}},
            {"data": {"name": "E_WT"}, "transform": [{"window": [{"op": "row_number", "as": "i"}]}, {"calculate": "2 + ((datum.i * 0.618034) % 1 - 0.5) * 0.6", "as": "x"}, {"calculate": "datum.data", "as": "v"}],
             "mark": {"type": "circle", "size": 24, "fill": "#F39C12", "stroke": "#000", "strokeWidth": 0.6, "opacity": 1}},
            {"data": {"name": "boxDG"}, "transform": [{"filter": "datum.p == 'E' && datum.g == 'MT'"}, {"calculate": "1.53", "as": "x"}, {"calculate": "2123", "as": "v"}], "mark": {"type": "text", "fontSize": 11, "color": "#333"},
             "encoding": {"text": {"field": "s"}}}
          ]
        },
        {"width": 53, "height": 1, "data": {"values": []}, "mark": "point"},
        {
          "width": 136, "height": 243,
          "title": {"text": "F", "fontSize": 28, "dx": -34, "dy": 8},
          "encoding": {
            "x": {"field": "x", "type": "quantitative", "stack": null, "title": null, "scale": {"domain": [0.507, 2.537], "nice": false, "zero": false}, "axis": {"values": [1, 2], "labelExpr": "datum.value == 1 ? 'MT' : 'WT'", "labelFontSize": 15, "labelPadding": 1}},
            "y": {"field": "v", "type": "quantitative", "title": "Macrophage Regulation", "scale": {"domain": [-2.33, 1.77], "nice": false, "zero": false}, "axis": {"values": [-2, -1, 0, 1], "format": "d"}}
          },
          "layer": [
            {"data": {"name": "F_MT"}, "transform": [{"density": "data", "bandwidth": 0.22, "extent": [-2.13, 1.43], "as": ["v", "dens"]}, {"joinaggregate": [{"op": "max", "field": "dens", "as": "dm"}]}, {"calculate": "1 - 0.42 * datum.dens / datum.dm", "as": "x"}, {"calculate": "1 + 0.42 * datum.dens / datum.dm", "as": "x2"}],
             "mark": {"type": "area", "orient": "horizontal", "fill": "#A8D5BA", "stroke": "#333", "strokeWidth": 0.6, "opacity": 1}, "encoding": {"x2": {"field": "x2"}}},
            {"data": {"name": "F_WT"}, "transform": [{"density": "data", "bandwidth": 0.2, "extent": [-2.05, 1.18], "as": ["v", "dens"]}, {"joinaggregate": [{"op": "max", "field": "dens", "as": "dm"}]}, {"calculate": "2 - 0.42 * datum.dens / datum.dm", "as": "x"}, {"calculate": "2 + 0.42 * datum.dens / datum.dm", "as": "x2"}],
             "mark": {"type": "area", "orient": "horizontal", "fill": "#FBDBA0", "stroke": "#333", "strokeWidth": 0.6, "opacity": 1}, "encoding": {"x2": {"field": "x2"}}},
            {"data": {"name": "boxDG"}, "transform": [{"filter": "datum.p == 'F'"}, {"calculate": "datum.g == 'MT' ? 1 : 2", "as": "x"}, {"calculate": "datum.lo", "as": "v"}, {"calculate": "datum.hi", "as": "v2"}],
             "mark": {"type": "rule", "color": "#111", "strokeWidth": 1.2}, "encoding": {"y2": {"field": "v2"}}},
            {"data": {"name": "boxDG"}, "transform": [{"filter": "datum.p == 'F'"}, {"calculate": "datum.g == 'MT' ? 1 : 2", "as": "c"}, {"fold": ["q1", "nlo", "med", "nhi", "q3"], "as": ["key", "v"]}, {"calculate": "datum.c - (datum.key == 'med' ? 0.2 : 0.4)", "as": "x"}, {"calculate": "datum.c + (datum.key == 'med' ? 0.2 : 0.4)", "as": "x2"}],
             "mark": {"type": "area", "orient": "horizontal", "stroke": "#222", "strokeWidth": 1, "opacity": 1},
             "encoding": {"x2": {"field": "x2"}, "color": {"field": "g", "type": "nominal", "scale": {"domain": ["MT", "WT"], "range": ["#4E9F76", "#F2B13E"]}, "legend": null}}},
            {"data": {"name": "boxDG"}, "transform": [{"filter": "datum.p == 'F'"}, {"calculate": "datum.g == 'MT' ? 1 : 2", "as": "c"}, {"calculate": "datum.med", "as": "v"}, {"calculate": "datum.c - 0.2", "as": "x"}, {"calculate": "datum.c + 0.2", "as": "x2"}],
             "mark": {"type": "rule", "color": "#222", "strokeWidth": 1}, "encoding": {"x2": {"field": "x2"}}},
            {"data": {"name": "F_MT"}, "transform": [{"window": [{"op": "row_number", "as": "i"}]}, {"calculate": "1 + ((datum.i * 0.618034) % 1 - 0.5) * 0.6", "as": "x"}, {"calculate": "datum.data", "as": "v"}],
             "mark": {"type": "circle", "size": 24, "fill": "#1E7B4E", "stroke": "#000", "strokeWidth": 0.6, "opacity": 1}},
            {"data": {"name": "F_WT"}, "transform": [{"window": [{"op": "row_number", "as": "i"}]}, {"calculate": "2 + ((datum.i * 0.618034) % 1 - 0.5) * 0.6", "as": "x"}, {"calculate": "datum.data", "as": "v"}],
             "mark": {"type": "circle", "size": 24, "fill": "#F39C12", "stroke": "#000", "strokeWidth": 0.6, "opacity": 1}},
            {"data": {"name": "boxDG"}, "transform": [{"filter": "datum.p == 'F' && datum.g == 'MT'"}, {"calculate": "1.28", "as": "x"}, {"calculate": "1.67", "as": "v"}], "mark": {"type": "text", "fontSize": 11, "color": "#333"},
             "encoding": {"text": {"field": "s"}}}
          ]
        },
        {"width": 53, "height": 1, "data": {"values": []}, "mark": "point"},
        {
          "width": 138, "height": 243,
          "encoding": {
            "x": {"field": "x", "type": "quantitative", "stack": null, "title": null, "scale": {"domain": [0.403, 2.629], "nice": false, "zero": false}, "axis": {"values": [1, 2], "labelExpr": "datum.value == 1 ? 'MT' : 'WT'", "labelFontSize": 15, "labelPadding": 1}},
            "y": {"field": "v", "type": "quantitative", "title": "Lymphocyte Infiltration Signature Score", "scale": {"domain": [-2.81, 3.05], "nice": false, "zero": false}, "axis": {"values": [-2, -1, 0, 1, 2, 3], "format": "d", "titleFontSize": 13.5}}
          },
          "layer": [
            {"data": {"name": "G_MT"}, "transform": [{"density": "data", "bandwidth": 0.3, "extent": [-2.35, 2.6], "as": ["v", "dens"]}, {"joinaggregate": [{"op": "max", "field": "dens", "as": "dm"}]}, {"calculate": "1 - 0.42 * datum.dens / datum.dm", "as": "x"}, {"calculate": "1 + 0.42 * datum.dens / datum.dm", "as": "x2"}],
             "mark": {"type": "area", "orient": "horizontal", "fill": "#A8D5BA", "stroke": "#333", "strokeWidth": 0.6, "opacity": 1}, "encoding": {"x2": {"field": "x2"}}},
            {"data": {"name": "G_WT"}, "transform": [{"density": "data", "bandwidth": 0.3, "extent": [-2.55, 2.55], "as": ["v", "dens"]}, {"joinaggregate": [{"op": "max", "field": "dens", "as": "dm"}]}, {"calculate": "2 - 0.42 * datum.dens / datum.dm", "as": "x"}, {"calculate": "2 + 0.42 * datum.dens / datum.dm", "as": "x2"}],
             "mark": {"type": "area", "orient": "horizontal", "fill": "#FBDBA0", "stroke": "#333", "strokeWidth": 0.6, "opacity": 1}, "encoding": {"x2": {"field": "x2"}}},
            {"data": {"name": "boxDG"}, "transform": [{"filter": "datum.p == 'G'"}, {"calculate": "datum.g == 'MT' ? 1 : 2", "as": "x"}, {"calculate": "datum.lo", "as": "v"}, {"calculate": "datum.hi", "as": "v2"}],
             "mark": {"type": "rule", "color": "#111", "strokeWidth": 1.2}, "encoding": {"y2": {"field": "v2"}}},
            {"data": {"name": "boxDG"}, "transform": [{"filter": "datum.p == 'G'"}, {"calculate": "datum.g == 'MT' ? 1 : 2", "as": "c"}, {"fold": ["q1", "nlo", "med", "nhi", "q3"], "as": ["key", "v"]}, {"calculate": "datum.c - (datum.key == 'med' ? 0.2 : 0.4)", "as": "x"}, {"calculate": "datum.c + (datum.key == 'med' ? 0.2 : 0.4)", "as": "x2"}],
             "mark": {"type": "area", "orient": "horizontal", "stroke": "#222", "strokeWidth": 1, "opacity": 1},
             "encoding": {"x2": {"field": "x2"}, "color": {"field": "g", "type": "nominal", "scale": {"domain": ["MT", "WT"], "range": ["#4E9F76", "#F2B13E"]}, "legend": null}}},
            {"data": {"name": "boxDG"}, "transform": [{"filter": "datum.p == 'G'"}, {"calculate": "datum.g == 'MT' ? 1 : 2", "as": "c"}, {"calculate": "datum.med", "as": "v"}, {"calculate": "datum.c - 0.2", "as": "x"}, {"calculate": "datum.c + 0.2", "as": "x2"}],
             "mark": {"type": "rule", "color": "#222", "strokeWidth": 1}, "encoding": {"x2": {"field": "x2"}}},
            {"data": {"name": "G_MT"}, "transform": [{"window": [{"op": "row_number", "as": "i"}]}, {"calculate": "1 + ((datum.i * 0.618034) % 1 - 0.5) * 0.6", "as": "x"}, {"calculate": "datum.data", "as": "v"}],
             "mark": {"type": "circle", "size": 24, "fill": "#1E7B4E", "stroke": "#000", "strokeWidth": 0.6, "opacity": 1}},
            {"data": {"name": "G_WT"}, "transform": [{"window": [{"op": "row_number", "as": "i"}]}, {"calculate": "2 + ((datum.i * 0.618034) % 1 - 0.5) * 0.6", "as": "x"}, {"calculate": "datum.data", "as": "v"}],
             "mark": {"type": "circle", "size": 24, "fill": "#F39C12", "stroke": "#000", "strokeWidth": 0.6, "opacity": 1}},
            {"data": {"name": "boxDG"}, "transform": [{"filter": "datum.p == 'G' && datum.g == 'MT'"}, {"calculate": "1.47", "as": "x"}, {"calculate": "2.88", "as": "v"}], "mark": {"type": "text", "fontSize": 11, "color": "#333"},
             "encoding": {"text": {"field": "s"}}},
            {"data": {"name": "letters"}, "transform": [{"calculate": "-0.726", "as": "x"}, {"calculate": "3.05", "as": "v"}], "mark": {"type": "text", "fontSize": 28, "align": "left", "baseline": "alphabetic", "color": "#000"},
             "encoding": {"text": {"field": "t"}}}
          ]
        }
      ],
      "spacing": 0, "bounds": "flush",
      "resolve": {"scale": {"color": "independent"}, "legend": {"color": "independent"}}
    }
  ],
  "spacing": 0,
  "resolve": {"scale": {"color": "independent"}, "legend": {"color": "independent"}}
}
